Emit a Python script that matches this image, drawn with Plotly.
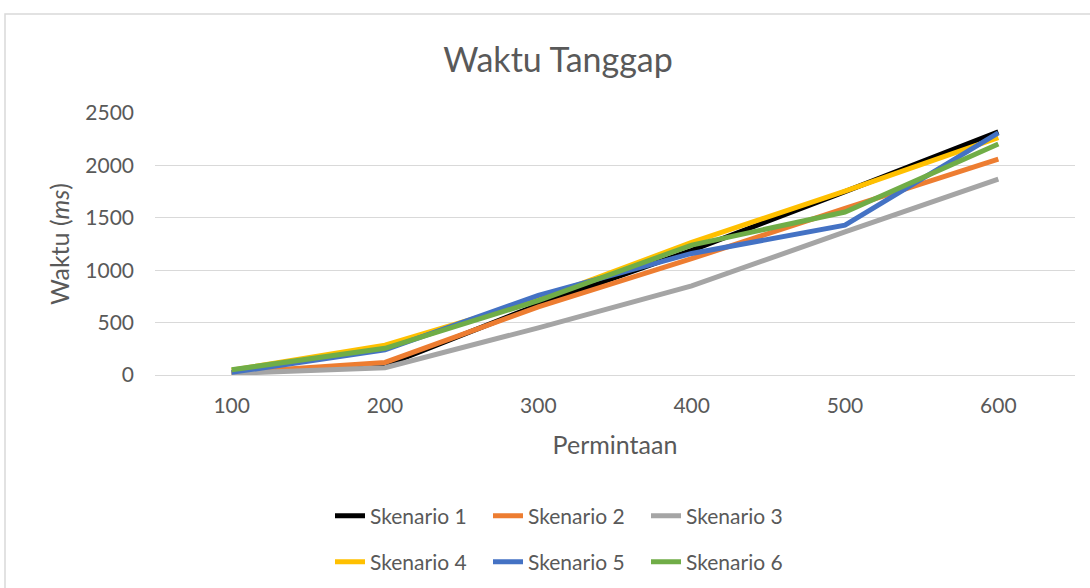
import plotly.graph_objects as go

categories = ["100", "200", "300", "400", "500", "600"]
series_names = ["Skenario 1", "Skenario 2", "Skenario 3", "Skenario 4", "Skenario 5", "Skenario 6"]
s1 = [20, 90, 670, 1190, 1750, 2320]
s2 = [20, 120, 650, 1110, 1590, 2060]
s3 = [15, 70, 450, 850, 1365, 1870]
s4 = [45, 285, 720, 1265, 1755, 2265]
s5 = [25, 240, 760, 1160, 1430, 2310]
s6 = [50, 255, 710, 1240, 1555, 2205]
series_values = [s1, s2, s3, s4, s5, s6]
colors = ["#000000", "#ED7D31", "#A5A5A5", "#FFC000", "#4472C4", "#70AD47"]
y_ticks = [0, 500, 1000, 1500, 2000, 2500]

FONT = "Lato"
TXT = "#595959"

W, H = 1090, 588
L, R, T, B = 155, 15, 113, 213
pw = W - L - R
ph = H - T - B

def px_x(p):
    return (p - L) / pw

def px_y(p):
    return (H - B - p) / ph

fig = go.Figure()
for i, (name, vals, col) in enumerate(zip(series_names, series_values, colors)):
    fig.add_trace(go.Scatter(
        x=categories, y=vals, name=name, mode="lines",
        line=dict(color=col, width=5),
        legend="legend" if i < 3 else "legend2",
    ))

legend_common = dict(
    orientation="h", xanchor="left", yanchor="middle",
    font=dict(family=FONT, size=21, color=TXT),
    entrywidthmode="pixels", entrywidth=113,
    bgcolor="rgba(0,0,0,0)", itemclick=False, itemdoubleclick=False,
)

fig.update_layout(
    width=W, height=H,
    margin=dict(l=L, r=R, t=T, b=B, autoexpand=False),
    paper_bgcolor="white", plot_bgcolor="white",
    title=dict(text="Waktu Tanggap", x=px_x(558), xref="paper", xanchor="center",
               y=1 - 60 / H, yref="container", yanchor="middle",
               font=dict(family=FONT, size=34, color=TXT)),
    xaxis=dict(type="category", range=[-0.5, 5.5], showgrid=False, showline=False, zeroline=False,
               tickfont=dict(family=FONT, size=21, color=TXT),
               ticks="", ticklabelstandoff=16,
               title=dict(text="Permintaan", font=dict(family=FONT, size=25, color=TXT), standoff=20)),
    yaxis=dict(range=[0, 2500], tickvals=y_ticks, showgrid=True, gridcolor="#D9D9D9", gridwidth=1,
               zeroline=True, zerolinecolor="#D9D9D9", zerolinewidth=1, showline=False,
               tickfont=dict(family=FONT, size=21, color=TXT),
               ticks="", ticklabelstandoff=20,
               title=dict(text="Waktu (<i>ms</i>)", font=dict(family=FONT, size=25, color=TXT), standoff=8)),
    legend=dict(x=px_x(330), y=px_y(516), **legend_common),
    legend2=dict(x=px_x(330), y=px_y(562), **legend_common),
    showlegend=True,
    shapes=[dict(type="rect", xref="paper", yref="paper",
                 x0=px_x(5), x1=px_x(1112), y0=px_y(620), y1=px_y(14),
                 line=dict(color="#D9D9D9", width=1.5), fillcolor="rgba(0,0,0,0)", layer="below")],
)

fig.write_html("out.html", config={"displayModeBar": False},
               post_script="document.body.style.margin='0px';")
